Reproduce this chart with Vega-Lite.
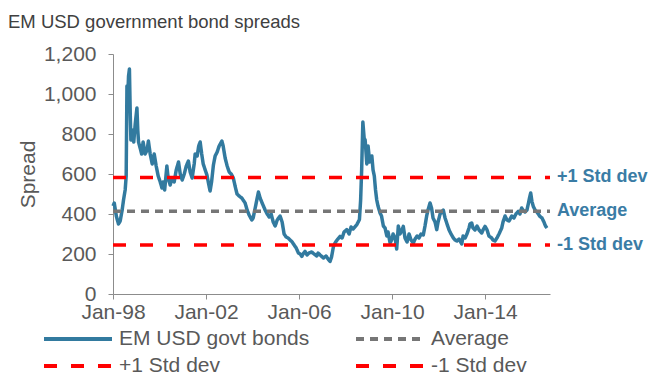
{
  "$schema": "https://vega.github.io/schema/vega-lite/v6.json",
  "autosize": "none",
  "width": 437,
  "height": 240,
  "padding": {"left": 113, "top": 54, "right": 98, "bottom": 82},
  "background": "white",
  "config": {
    "font": "Liberation Sans",
    "view": {"stroke": null},
    "axis": {
      "grid": false,
      "labelFont": "Liberation Sans",
      "labelFontSize": 21,
      "labelColor": "#595959",
      "domainColor": "#8c8c8c",
      "tickColor": "#8c8c8c",
      "tickSize": 5,
      "titleFont": "Liberation Sans",
      "titleFontSize": 21,
      "titleFontWeight": "normal",
      "titleColor": "#595959"
    }
  },
  "title": {
    "text": "EM USD government bond spreads",
    "anchor": "start",
    "frame": "group",
    "dx": -105,
    "offset": 12,
    "fontSize": 18.5,
    "fontWeight": "normal",
    "color": "#404040",
    "font": "Liberation Sans"
  },
  "datasets": {
    "main": [
      {"date": "1998-01-01", "value": 440},
      {"date": "1998-01-21", "value": 455},
      {"date": "1998-02-22", "value": 390},
      {"date": "1998-03-28", "value": 350},
      {"date": "1998-04-24", "value": 365},
      {"date": "1998-05-25", "value": 420},
      {"date": "1998-06-15", "value": 470},
      {"date": "1998-07-11", "value": 520},
      {"date": "1998-07-27", "value": 590},
      {"date": "1998-08-08", "value": 1040},
      {"date": "1998-08-20", "value": 980},
      {"date": "1998-09-02", "value": 1090},
      {"date": "1998-09-16", "value": 1125},
      {"date": "1998-09-29", "value": 900},
      {"date": "1998-10-09", "value": 770},
      {"date": "1998-10-29", "value": 820},
      {"date": "1998-11-23", "value": 760},
      {"date": "1998-12-16", "value": 850},
      {"date": "1999-01-12", "value": 930},
      {"date": "1999-01-25", "value": 820},
      {"date": "1999-02-06", "value": 760},
      {"date": "1999-03-03", "value": 730},
      {"date": "1999-03-27", "value": 700},
      {"date": "1999-04-19", "value": 760},
      {"date": "1999-05-20", "value": 700},
      {"date": "1999-06-21", "value": 720},
      {"date": "1999-07-11", "value": 765},
      {"date": "1999-08-08", "value": 700},
      {"date": "1999-09-09", "value": 650},
      {"date": "1999-10-10", "value": 700},
      {"date": "1999-11-10", "value": 640},
      {"date": "1999-12-12", "value": 590},
      {"date": "2000-01-13", "value": 560},
      {"date": "2000-02-09", "value": 530},
      {"date": "2000-02-28", "value": 560},
      {"date": "2000-03-22", "value": 520},
      {"date": "2000-04-26", "value": 640},
      {"date": "2000-05-16", "value": 580},
      {"date": "2000-06-17", "value": 545},
      {"date": "2000-07-18", "value": 580},
      {"date": "2000-08-19", "value": 560},
      {"date": "2000-09-20", "value": 620},
      {"date": "2000-10-26", "value": 660},
      {"date": "2000-11-22", "value": 600},
      {"date": "2000-12-23", "value": 570},
      {"date": "2001-01-24", "value": 600},
      {"date": "2001-02-25", "value": 640},
      {"date": "2001-03-30", "value": 665},
      {"date": "2001-04-27", "value": 610},
      {"date": "2001-05-28", "value": 580},
      {"date": "2001-06-29", "value": 650},
      {"date": "2001-07-14", "value": 700},
      {"date": "2001-08-15", "value": 690},
      {"date": "2001-09-08", "value": 740},
      {"date": "2001-10-01", "value": 760},
      {"date": "2001-10-25", "value": 700},
      {"date": "2001-11-18", "value": 650},
      {"date": "2001-12-19", "value": 620},
      {"date": "2002-01-15", "value": 595},
      {"date": "2002-02-05", "value": 560},
      {"date": "2002-03-06", "value": 515},
      {"date": "2002-03-29", "value": 560},
      {"date": "2002-04-27", "value": 645},
      {"date": "2002-05-24", "value": 690},
      {"date": "2002-06-25", "value": 710},
      {"date": "2002-07-26", "value": 740},
      {"date": "2002-09-07", "value": 765},
      {"date": "2002-09-27", "value": 740},
      {"date": "2002-10-28", "value": 680},
      {"date": "2002-11-29", "value": 640},
      {"date": "2002-12-31", "value": 610},
      {"date": "2003-02-01", "value": 600},
      {"date": "2003-03-06", "value": 580},
      {"date": "2003-04-02", "value": 540},
      {"date": "2003-05-03", "value": 500},
      {"date": "2003-06-04", "value": 490},
      {"date": "2003-07-16", "value": 480},
      {"date": "2003-08-06", "value": 470},
      {"date": "2003-09-07", "value": 455},
      {"date": "2003-10-08", "value": 420},
      {"date": "2003-11-09", "value": 395},
      {"date": "2003-12-21", "value": 370},
      {"date": "2004-01-11", "value": 380},
      {"date": "2004-02-12", "value": 430},
      {"date": "2004-04-03", "value": 510},
      {"date": "2004-04-29", "value": 480},
      {"date": "2004-05-31", "value": 455},
      {"date": "2004-07-17", "value": 420},
      {"date": "2004-08-18", "value": 400},
      {"date": "2004-09-19", "value": 385},
      {"date": "2004-10-20", "value": 400},
      {"date": "2004-11-21", "value": 360},
      {"date": "2004-12-22", "value": 340},
      {"date": "2005-01-23", "value": 370},
      {"date": "2005-03-09", "value": 390},
      {"date": "2005-04-10", "value": 360},
      {"date": "2005-05-11", "value": 300},
      {"date": "2005-06-12", "value": 285},
      {"date": "2005-07-13", "value": 280},
      {"date": "2005-08-14", "value": 270},
      {"date": "2005-09-15", "value": 260},
      {"date": "2005-10-16", "value": 245},
      {"date": "2005-11-17", "value": 230},
      {"date": "2005-12-22", "value": 205},
      {"date": "2006-01-18", "value": 200},
      {"date": "2006-02-14", "value": 188},
      {"date": "2006-03-04", "value": 200},
      {"date": "2006-04-05", "value": 213},
      {"date": "2006-05-06", "value": 195},
      {"date": "2006-06-07", "value": 205},
      {"date": "2006-07-19", "value": 210},
      {"date": "2006-08-25", "value": 200},
      {"date": "2006-10-06", "value": 190},
      {"date": "2006-10-27", "value": 205},
      {"date": "2006-11-28", "value": 195},
      {"date": "2007-01-19", "value": 180},
      {"date": "2007-03-01", "value": 190},
      {"date": "2007-04-02", "value": 175},
      {"date": "2007-05-03", "value": 163},
      {"date": "2007-05-26", "value": 185},
      {"date": "2007-06-24", "value": 235},
      {"date": "2007-07-20", "value": 255},
      {"date": "2007-08-21", "value": 270},
      {"date": "2007-10-07", "value": 288},
      {"date": "2007-11-08", "value": 280},
      {"date": "2007-12-09", "value": 310},
      {"date": "2008-01-21", "value": 322},
      {"date": "2008-02-26", "value": 300},
      {"date": "2008-03-28", "value": 335},
      {"date": "2008-04-29", "value": 325},
      {"date": "2008-06-26", "value": 347},
      {"date": "2008-08-06", "value": 372},
      {"date": "2008-08-25", "value": 470},
      {"date": "2008-09-10", "value": 620},
      {"date": "2008-09-29", "value": 860},
      {"date": "2008-10-19", "value": 780},
      {"date": "2008-11-04", "value": 770},
      {"date": "2008-11-30", "value": 650},
      {"date": "2008-12-20", "value": 740},
      {"date": "2009-01-14", "value": 660},
      {"date": "2009-02-17", "value": 690},
      {"date": "2009-03-08", "value": 620},
      {"date": "2009-03-28", "value": 590},
      {"date": "2009-04-16", "value": 520},
      {"date": "2009-05-05", "value": 470},
      {"date": "2009-05-25", "value": 440},
      {"date": "2009-06-26", "value": 405},
      {"date": "2009-07-19", "value": 390},
      {"date": "2009-08-17", "value": 340},
      {"date": "2009-09-13", "value": 330},
      {"date": "2009-10-10", "value": 290},
      {"date": "2009-10-30", "value": 310},
      {"date": "2009-12-01", "value": 255},
      {"date": "2009-12-27", "value": 272},
      {"date": "2010-01-17", "value": 300},
      {"date": "2010-02-18", "value": 280},
      {"date": "2010-03-14", "value": 225},
      {"date": "2010-04-09", "value": 340},
      {"date": "2010-05-05", "value": 300},
      {"date": "2010-06-06", "value": 320},
      {"date": "2010-06-26", "value": 338},
      {"date": "2010-07-23", "value": 280},
      {"date": "2010-08-24", "value": 260},
      {"date": "2010-09-25", "value": 300},
      {"date": "2010-10-26", "value": 270},
      {"date": "2010-12-01", "value": 255},
      {"date": "2010-12-28", "value": 275},
      {"date": "2011-01-29", "value": 290},
      {"date": "2011-02-28", "value": 280},
      {"date": "2011-03-31", "value": 300},
      {"date": "2011-05-06", "value": 295},
      {"date": "2011-06-02", "value": 340},
      {"date": "2011-06-28", "value": 390},
      {"date": "2011-07-19", "value": 420},
      {"date": "2011-08-20", "value": 455},
      {"date": "2011-09-13", "value": 430},
      {"date": "2011-10-06", "value": 380},
      {"date": "2011-11-07", "value": 360},
      {"date": "2011-12-03", "value": 322},
      {"date": "2011-12-24", "value": 360},
      {"date": "2012-01-25", "value": 400},
      {"date": "2012-03-15", "value": 420},
      {"date": "2012-04-12", "value": 380},
      {"date": "2012-05-13", "value": 350},
      {"date": "2012-06-14", "value": 320},
      {"date": "2012-07-15", "value": 300},
      {"date": "2012-08-20", "value": 280},
      {"date": "2012-09-16", "value": 270},
      {"date": "2012-10-17", "value": 265},
      {"date": "2012-11-18", "value": 275},
      {"date": "2012-12-30", "value": 250},
      {"date": "2013-01-20", "value": 290},
      {"date": "2013-02-21", "value": 280},
      {"date": "2013-03-22", "value": 300},
      {"date": "2013-04-23", "value": 330},
      {"date": "2013-05-08", "value": 350},
      {"date": "2013-06-04", "value": 355},
      {"date": "2013-06-25", "value": 330},
      {"date": "2013-07-26", "value": 320},
      {"date": "2013-08-27", "value": 340},
      {"date": "2013-09-28", "value": 320},
      {"date": "2013-11-09", "value": 305},
      {"date": "2013-11-29", "value": 320},
      {"date": "2013-12-31", "value": 338},
      {"date": "2014-02-01", "value": 320},
      {"date": "2014-03-02", "value": 290},
      {"date": "2014-04-14", "value": 280},
      {"date": "2014-05-04", "value": 270},
      {"date": "2014-06-05", "value": 265},
      {"date": "2014-07-06", "value": 280},
      {"date": "2014-08-07", "value": 300},
      {"date": "2014-09-19", "value": 330},
      {"date": "2014-10-09", "value": 360},
      {"date": "2014-11-10", "value": 390},
      {"date": "2014-12-11", "value": 370},
      {"date": "2015-01-12", "value": 365},
      {"date": "2015-02-23", "value": 390},
      {"date": "2015-03-29", "value": 380},
      {"date": "2015-04-30", "value": 400},
      {"date": "2015-06-05", "value": 413},
      {"date": "2015-07-02", "value": 400},
      {"date": "2015-07-29", "value": 430},
      {"date": "2015-08-18", "value": 420},
      {"date": "2015-09-19", "value": 410},
      {"date": "2015-10-20", "value": 420},
      {"date": "2015-11-10", "value": 450},
      {"date": "2015-11-29", "value": 480},
      {"date": "2015-12-18", "value": 505},
      {"date": "2016-01-08", "value": 460},
      {"date": "2016-01-28", "value": 438},
      {"date": "2016-02-24", "value": 420},
      {"date": "2016-03-25", "value": 410},
      {"date": "2016-04-26", "value": 395},
      {"date": "2016-05-11", "value": 388},
      {"date": "2016-06-12", "value": 380},
      {"date": "2016-07-13", "value": 360},
      {"date": "2016-08-06", "value": 340},
      {"date": "2016-08-30", "value": 330}
    ],
    "refs": [
      {"date": "1998-01-01", "value": 414, "series": "Average"},
      {"date": "2016-10-16", "value": 414, "series": "Average"},
      {"date": "1998-01-01", "value": 583, "series": "+1 Std dev"},
      {"date": "2016-10-16", "value": 583, "series": "+1 Std dev"},
      {"date": "1998-01-01", "value": 245, "series": "-1 Std dev"},
      {"date": "2016-10-16", "value": 245, "series": "-1 Std dev"}
    ],
    "labels": [
      {"label": "+1 Std dev", "date": "2016-10-16", "value": 583},
      {"label": "Average", "date": "2016-10-16", "value": 414},
      {"label": "-1 Std dev", "date": "2016-10-16", "value": 245}
    ]
  },
  "encoding": {
    "x": {
      "field": "date",
      "type": "temporal",
      "scale": {
        "type": "utc",
        "domain": [
          {"year": 1998, "month": 1, "date": 1, "utc": true},
          {"year": 2016, "month": 10, "date": 16, "utc": true}
        ],
        "nice": false
      },
      "axis": {
        "title": null,
        "values": [
          {"year": 1998, "month": 1, "date": 1, "utc": true},
          {"year": 2002, "month": 1, "date": 1, "utc": true},
          {"year": 2006, "month": 1, "date": 1, "utc": true},
          {"year": 2010, "month": 1, "date": 1, "utc": true},
          {"year": 2014, "month": 1, "date": 1, "utc": true}
        ],
        "labelExpr": "utcFormat(datum.value, '%b-%y')",
        "labelAlign": "center",
        "labelPadding": 2,
        "labelFlush": false,
        "labelOverlap": false
      }
    },
    "y": {
      "field": "value",
      "type": "quantitative",
      "scale": {"domain": [0, 1200], "nice": false},
      "axis": {
        "title": "Spread",
        "values": [0, 200, 400, 600, 800, 1000, 1200],
        "labelExpr": "format(datum.value, ',.0f')",
        "labelPadding": 12,
        "titlePadding": 5
      }
    }
  },
  "layer": [
    {
      "data": {"name": "main"},
      "transform": [{"calculate": "'EM USD govt bonds'", "as": "series"}],
      "mark": {"type": "line", "strokeWidth": 3.5, "strokeJoin": "round"},
      "encoding": {
        "color": {"field": "series", "type": "nominal"},
        "strokeDash": {"field": "series", "type": "nominal"}
      }
    },
    {
      "data": {"name": "refs"},
      "mark": {"type": "line", "strokeWidth": 3.5},
      "encoding": {
        "color": {
          "field": "series",
          "type": "nominal",
          "scale": {
            "domain": ["EM USD govt bonds", "Average", "+1 Std dev", "-1 Std dev"],
            "range": ["#327a9f", "#767676", "#ff0000", "#ff0000"]
          },
          "legend": {
            "title": null,
            "orient": "none",
            "legendX": -47,
            "legendY": 273,
            "direction": "horizontal",
            "columns": 2,
            "symbolType": "M-3.4,0H3.4",
            "symbolSize": 400,
            "symbolStrokeWidth": 4,
            "labelFont": "Liberation Sans",
            "labelFontSize": 21,
            "labelColor": "#595959",
            "labelLimit": 400,
            "labelOffset": 29,
            "rowPadding": 5,
            "columnPadding": 38
          }
        },
        "strokeDash": {
          "field": "series",
          "type": "nominal",
          "scale": {
            "domain": ["EM USD govt bonds", "Average", "+1 Std dev", "-1 Std dev"],
            "range": [[1, 0], [8, 6], [13, 14], [13, 14]]
          },
          "legend": {
            "title": null,
            "orient": "none",
            "legendX": -47,
            "legendY": 273,
            "direction": "horizontal",
            "columns": 2,
            "symbolType": "M-3.4,0H3.4",
            "symbolSize": 400,
            "symbolStrokeWidth": 4,
            "labelFont": "Liberation Sans",
            "labelFontSize": 21,
            "labelColor": "#595959",
            "labelLimit": 400,
            "labelOffset": 29,
            "rowPadding": 5,
            "columnPadding": 38
          }
        }
      }
    },
    {
      "data": {"name": "labels"},
      "mark": {
        "type": "text",
        "align": "left",
        "baseline": "middle",
        "dx": 7,
        "fontWeight": "bold",
        "fontSize": 18,
        "font": "Liberation Sans",
        "color": "#3a7ca5"
      },
      "encoding": {
        "text": {"field": "label"}
      }
    }
  ]
}
